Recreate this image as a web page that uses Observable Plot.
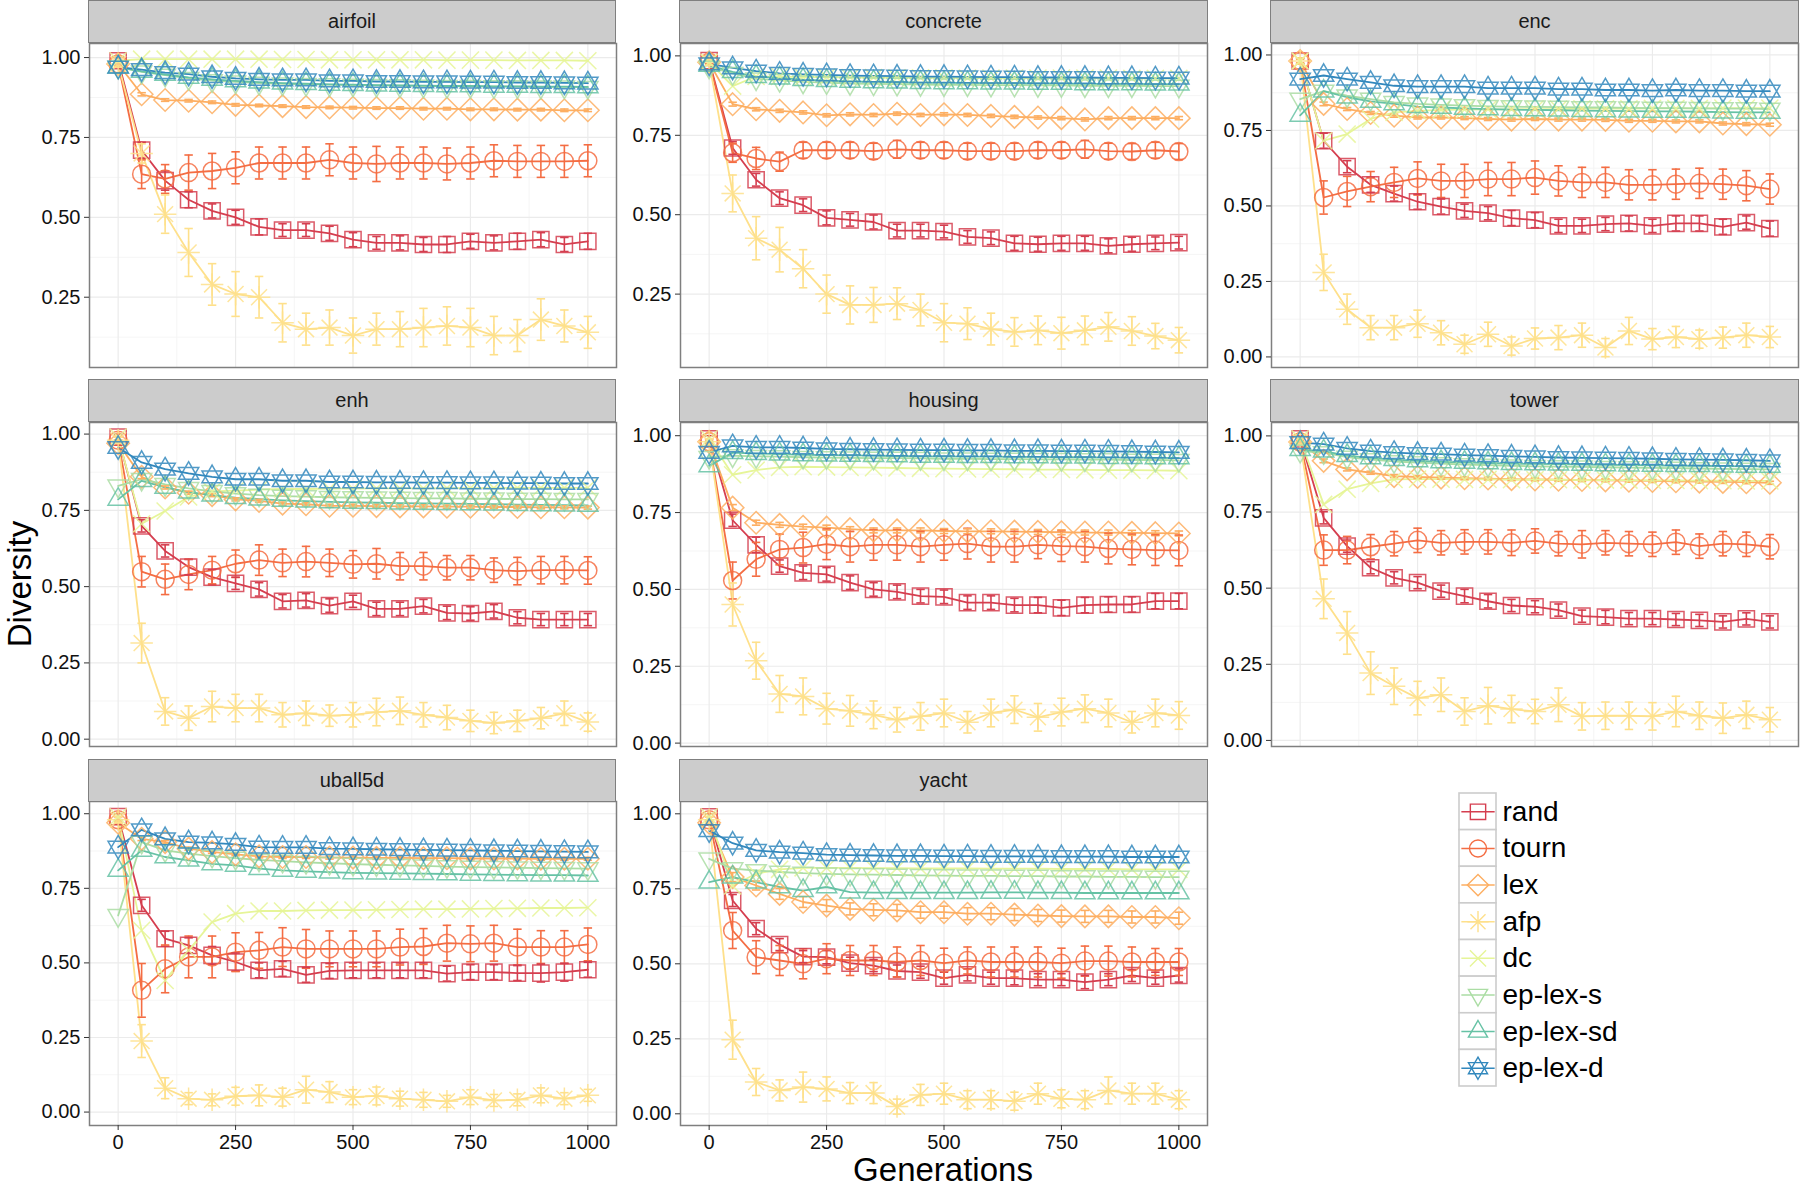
<!DOCTYPE html>
<html><head><meta charset="utf-8">
<script src="https://cdn.jsdelivr.net/npm/d3@7"></script>
<script src="https://cdn.jsdelivr.net/npm/@observablehq/plot@0.6"></script>
<style>
body{margin:0;background:#fff;font-family:"Liberation Sans",Arial,Helvetica,sans-serif;}
#chart{position:relative;width:1800px;height:1189px;overflow:hidden;background:#fff;}
.abs{position:absolute;}
.strip{position:absolute;background:#CCCCCC;border:1.5px solid #7F7F7F;box-sizing:border-box;display:flex;align-items:center;justify-content:center;font-size:20px;color:#1A1A1A;}
.title{position:absolute;font-size:33px;line-height:26px;color:#000;white-space:nowrap;transform:translate(-50%,-50%);}
</style></head>
<body><div id="chart"></div>
<script>
// ---------- categories / ticks ----------
const generations = [0,50,100,150,200,250,300,350,400,450,500,550,600,650,700,750,800,850,900,950,1000];
const methods = ["rand","tourn","lex","afp","dc","ep-lex-s","ep-lex-sd","ep-lex-d"];
const methodColors = ["#D53E4F","#F46D43","#FDAE61","#FEE08B","#E6F598","#ABDDA4","#66C2A5","#3288BD"];
const datasets = ["airfoil","concrete","enc","enh","housing","tower","uball5d","yacht"];
const xTicks = [0,250,500,750,1000];
const xMinor = [125,375,625,875];
const yTicks = [0,0.25,0.5,0.75,1];
const yMinor = [0.125,0.375,0.625,0.875];

// ---------- airfoil ----------
const airfoil_rand = [0.99,0.71,0.615,0.555,0.52,0.50,0.47,0.46,0.46,0.45,0.43,0.42,0.42,0.415,0.415,0.425,0.42,0.425,0.43,0.415,0.425];
const airfoil_tourn = [0.98,0.635,0.62,0.64,0.645,0.655,0.67,0.67,0.67,0.68,0.67,0.667,0.67,0.67,0.667,0.67,0.677,0.675,0.675,0.675,0.677];
const airfoil_lex = [0.98,0.885,0.867,0.865,0.86,0.852,0.85,0.848,0.845,0.844,0.843,0.842,0.842,0.84,0.84,0.838,0.838,0.837,0.837,0.835,0.835];
const airfoil_afp = [0.98,0.70,0.51,0.39,0.29,0.26,0.25,0.17,0.15,0.155,0.13,0.15,0.15,0.155,0.16,0.155,0.13,0.13,0.18,0.16,0.14];
const airfoil_dc = [0.99,0.995,0.995,0.995,0.995,0.995,0.995,0.994,0.994,0.993,0.993,0.993,0.993,0.993,0.992,0.992,0.992,0.991,0.991,0.991,0.99];
const airfoil_eplexs = [0.97,0.955,0.945,0.935,0.928,0.924,0.92,0.918,0.916,0.915,0.914,0.913,0.912,0.911,0.91,0.91,0.909,0.909,0.908,0.908,0.907];
const airfoil_eplexsd = [0.97,0.957,0.947,0.938,0.932,0.927,0.923,0.92,0.918,0.916,0.915,0.914,0.913,0.912,0.911,0.911,0.91,0.91,0.909,0.909,0.908];
const airfoil_eplexd = [0.97,0.962,0.953,0.948,0.94,0.935,0.932,0.93,0.93,0.927,0.927,0.925,0.925,0.924,0.924,0.923,0.923,0.922,0.922,0.921,0.92];
const airfoil_rand_err = [0.01,0.025,0.03,0.025,0.022,0.022,0.025,0.02,0.02,0.022,0.022,0.02,0.022,0.022,0.025,0.022,0.022,0.025,0.022,0.022,0.025];
const airfoil_tourn_err = [0.01,0.045,0.045,0.055,0.055,0.05,0.05,0.05,0.05,0.05,0.05,0.055,0.05,0.05,0.05,0.05,0.05,0.05,0.05,0.05,0.05];
const airfoil_lex_err = [0.006,0.005,0.004,0.004,0.004,0.004,0.004,0.004,0.004,0.004,0.004,0.004,0.004,0.004,0.004,0.004,0.004,0.004,0.004,0.004,0.004];
const airfoil_afp_err = [0.01,0.03,0.06,0.075,0.065,0.07,0.065,0.06,0.05,0.055,0.055,0.05,0.055,0.06,0.06,0.06,0.06,0.05,0.065,0.05,0.05];

// ---------- concrete ----------
const concrete_rand = [0.985,0.71,0.61,0.552,0.53,0.49,0.484,0.477,0.45,0.45,0.447,0.43,0.426,0.41,0.407,0.41,0.41,0.402,0.407,0.41,0.412];
const concrete_tourn = [0.98,0.695,0.677,0.667,0.703,0.703,0.703,0.70,0.706,0.703,0.703,0.70,0.70,0.70,0.703,0.703,0.706,0.70,0.699,0.703,0.699];
const concrete_lex = [0.98,0.848,0.832,0.827,0.822,0.813,0.816,0.814,0.818,0.814,0.816,0.814,0.811,0.808,0.806,0.804,0.80,0.804,0.804,0.804,0.804];
const concrete_afp = [0.98,0.567,0.426,0.39,0.33,0.25,0.216,0.216,0.22,0.20,0.16,0.157,0.14,0.131,0.136,0.127,0.136,0.147,0.134,0.118,0.105];
const concrete_dc = [0.98,0.905,0.935,0.935,0.933,0.933,0.932,0.932,0.931,0.931,0.931,0.93,0.93,0.93,0.93,0.93,0.93,0.93,0.929,0.929,0.929];
const concrete_eplexs = [0.965,0.945,0.928,0.923,0.918,0.916,0.913,0.912,0.911,0.91,0.909,0.909,0.908,0.908,0.907,0.907,0.906,0.906,0.906,0.905,0.905];
const concrete_eplexsd = [0.97,0.95,0.935,0.93,0.925,0.922,0.92,0.918,0.917,0.916,0.915,0.915,0.914,0.914,0.913,0.913,0.912,0.912,0.912,0.911,0.911];
const concrete_eplexd = [0.975,0.962,0.952,0.945,0.942,0.94,0.938,0.937,0.936,0.935,0.935,0.934,0.933,0.933,0.932,0.932,0.932,0.931,0.931,0.93,0.93];
const concrete_rand_err = [0.01,0.02,0.02,0.02,0.02,0.022,0.02,0.022,0.02,0.02,0.02,0.02,0.02,0.022,0.022,0.022,0.022,0.022,0.022,0.02,0.02];
const concrete_tourn_err = [0.01,0.03,0.035,0.03,0.025,0.025,0.025,0.025,0.028,0.025,0.025,0.025,0.025,0.025,0.025,0.025,0.028,0.025,0.025,0.025,0.025];
const concrete_lex_err = [0.006,0.006,0.005,0.005,0.005,0.005,0.005,0.005,0.005,0.005,0.005,0.005,0.005,0.005,0.005,0.005,0.005,0.005,0.005,0.005,0.005];
const concrete_afp_err = [0.01,0.058,0.068,0.07,0.06,0.06,0.06,0.055,0.05,0.05,0.06,0.05,0.05,0.045,0.045,0.05,0.045,0.045,0.045,0.04,0.04];

// ---------- enc ----------
const enc_rand = [0.98,0.716,0.63,0.57,0.541,0.514,0.498,0.484,0.476,0.46,0.453,0.434,0.434,0.44,0.442,0.434,0.442,0.442,0.431,0.445,0.425];
const enc_tourn = [0.98,0.528,0.548,0.564,0.578,0.591,0.583,0.583,0.589,0.589,0.594,0.583,0.578,0.578,0.57,0.57,0.572,0.575,0.572,0.567,0.556];
const enc_lex = [0.98,0.838,0.821,0.808,0.799,0.793,0.793,0.791,0.788,0.786,0.788,0.786,0.786,0.785,0.782,0.782,0.78,0.78,0.773,0.771,0.769];
const enc_afp = [0.98,0.28,0.158,0.097,0.097,0.11,0.08,0.042,0.075,0.036,0.061,0.064,0.072,0.031,0.086,0.059,0.066,0.059,0.064,0.072,0.066];
const enc_dc = [0.98,0.716,0.738,0.788,0.81,0.815,0.818,0.819,0.82,0.82,0.821,0.821,0.822,0.822,0.822,0.823,0.823,0.823,0.824,0.824,0.824];
const enc_eplexs = [0.854,0.88,0.865,0.854,0.843,0.838,0.835,0.832,0.83,0.829,0.828,0.827,0.826,0.826,0.825,0.824,0.824,0.823,0.822,0.822,0.821];
const enc_eplexsd = [0.80,0.88,0.86,0.846,0.838,0.829,0.826,0.823,0.821,0.819,0.818,0.817,0.816,0.815,0.814,0.813,0.813,0.812,0.811,0.81,0.81];
const enc_eplexd = [0.92,0.932,0.92,0.909,0.898,0.895,0.895,0.895,0.89,0.89,0.89,0.887,0.887,0.884,0.884,0.882,0.884,0.882,0.882,0.88,0.88];
const enc_rand_err = [0.01,0.025,0.02,0.025,0.025,0.025,0.025,0.022,0.022,0.025,0.025,0.022,0.022,0.022,0.025,0.022,0.025,0.025,0.025,0.022,0.025];
const enc_tourn_err = [0.01,0.055,0.05,0.05,0.05,0.055,0.055,0.055,0.055,0.055,0.055,0.05,0.05,0.05,0.05,0.05,0.05,0.05,0.05,0.05,0.05];
const enc_lex_err = [0.006,0.006,0.005,0.005,0.005,0.005,0.005,0.005,0.005,0.005,0.005,0.005,0.005,0.005,0.005,0.005,0.005,0.005,0.005,0.005,0.005];
const enc_afp_err = [0.01,0.06,0.05,0.04,0.04,0.045,0.04,0.03,0.04,0.03,0.035,0.04,0.04,0.03,0.045,0.035,0.035,0.03,0.035,0.04,0.035];

// ---------- enh ----------
const enh_rand = [0.99,0.699,0.617,0.564,0.531,0.511,0.491,0.452,0.455,0.438,0.452,0.427,0.427,0.436,0.414,0.412,0.419,0.398,0.392,0.392,0.392];
const enh_tourn = [0.98,0.549,0.524,0.54,0.554,0.575,0.587,0.578,0.582,0.578,0.573,0.575,0.567,0.567,0.562,0.562,0.554,0.551,0.554,0.554,0.553];
const enh_lex = [0.97,0.86,0.825,0.808,0.80,0.786,0.781,0.772,0.77,0.765,0.765,0.764,0.763,0.763,0.762,0.762,0.761,0.761,0.76,0.76,0.759];
const enh_afp = [0.98,0.315,0.091,0.069,0.107,0.102,0.102,0.08,0.085,0.077,0.08,0.089,0.093,0.08,0.071,0.06,0.053,0.06,0.069,0.085,0.056];
const enh_dc = [0.99,0.706,0.748,0.794,0.812,0.815,0.818,0.82,0.82,0.821,0.821,0.822,0.822,0.822,0.823,0.823,0.823,0.824,0.824,0.824,0.824];
const enh_eplexs = [0.83,0.852,0.835,0.822,0.812,0.805,0.80,0.797,0.795,0.793,0.792,0.791,0.79,0.789,0.789,0.788,0.788,0.787,0.787,0.786,0.786];
const enh_eplexsd = [0.786,0.847,0.825,0.81,0.80,0.792,0.787,0.783,0.78,0.778,0.776,0.775,0.774,0.773,0.772,0.771,0.77,0.769,0.768,0.767,0.766];
const enh_eplexd = [0.956,0.907,0.885,0.871,0.86,0.852,0.852,0.847,0.847,0.843,0.843,0.842,0.842,0.841,0.841,0.84,0.84,0.839,0.839,0.838,0.838];
const enh_rand_err = [0.01,0.02,0.02,0.025,0.025,0.02,0.022,0.022,0.022,0.022,0.02,0.022,0.022,0.022,0.022,0.022,0.022,0.02,0.02,0.02,0.02];
const enh_tourn_err = [0.01,0.05,0.05,0.05,0.045,0.045,0.05,0.045,0.05,0.045,0.045,0.05,0.045,0.045,0.04,0.04,0.04,0.045,0.045,0.045,0.045];
const enh_lex_err = [0.006,0.006,0.005,0.005,0.005,0.005,0.005,0.005,0.005,0.005,0.005,0.005,0.005,0.005,0.005,0.005,0.005,0.005,0.005,0.005,0.005];
const enh_afp_err = [0.01,0.065,0.045,0.04,0.05,0.045,0.045,0.04,0.04,0.035,0.04,0.045,0.045,0.04,0.04,0.035,0.035,0.035,0.035,0.04,0.03];

// ---------- housing ----------
const housing_rand = [0.99,0.725,0.645,0.576,0.554,0.549,0.522,0.50,0.492,0.478,0.476,0.457,0.457,0.449,0.449,0.44,0.449,0.451,0.451,0.462,0.462];
const housing_tourn = [0.98,0.529,0.598,0.63,0.636,0.647,0.639,0.645,0.645,0.639,0.645,0.649,0.639,0.639,0.645,0.641,0.639,0.633,0.63,0.628,0.627];
const housing_lex = [0.98,0.766,0.717,0.71,0.704,0.701,0.696,0.692,0.692,0.692,0.69,0.689,0.689,0.688,0.687,0.686,0.685,0.685,0.684,0.683,0.682];
const housing_afp = [0.98,0.451,0.268,0.16,0.152,0.112,0.105,0.092,0.076,0.087,0.098,0.068,0.098,0.109,0.084,0.101,0.112,0.098,0.068,0.098,0.09];
const housing_dc = [0.99,0.873,0.888,0.897,0.899,0.898,0.897,0.896,0.895,0.894,0.893,0.892,0.891,0.891,0.89,0.89,0.889,0.888,0.888,0.887,0.886];
const housing_eplexs = [0.93,0.935,0.933,0.932,0.93,0.929,0.928,0.927,0.927,0.926,0.925,0.925,0.924,0.924,0.923,0.923,0.922,0.922,0.921,0.921,0.92];
const housing_eplexsd = [0.902,0.945,0.942,0.94,0.938,0.937,0.936,0.935,0.934,0.933,0.933,0.932,0.932,0.931,0.931,0.93,0.93,0.929,0.929,0.928,0.928];
const housing_eplexd = [0.946,0.967,0.962,0.962,0.96,0.957,0.956,0.955,0.954,0.953,0.953,0.952,0.952,0.951,0.951,0.95,0.95,0.949,0.948,0.947,0.946];
const housing_rand_err = [0.01,0.02,0.025,0.02,0.022,0.022,0.022,0.022,0.022,0.022,0.022,0.022,0.022,0.022,0.025,0.025,0.025,0.025,0.025,0.025,0.025];
const housing_tourn_err = [0.01,0.06,0.055,0.05,0.05,0.05,0.05,0.05,0.05,0.05,0.05,0.05,0.05,0.05,0.045,0.05,0.05,0.05,0.05,0.05,0.05];
const housing_lex_err = [0.006,0.01,0.008,0.008,0.008,0.008,0.008,0.008,0.008,0.008,0.008,0.008,0.008,0.008,0.008,0.008,0.008,0.008,0.008,0.008,0.008];
const housing_afp_err = [0.01,0.07,0.06,0.06,0.06,0.05,0.05,0.045,0.04,0.045,0.045,0.035,0.045,0.045,0.045,0.045,0.045,0.045,0.035,0.045,0.045];

// ---------- tower ----------
const tower_rand = [0.99,0.731,0.638,0.567,0.534,0.518,0.49,0.474,0.457,0.443,0.439,0.428,0.408,0.405,0.40,0.40,0.397,0.394,0.389,0.399,0.389];
const tower_tourn = [0.98,0.625,0.625,0.636,0.646,0.657,0.649,0.652,0.652,0.649,0.655,0.646,0.644,0.649,0.646,0.644,0.651,0.638,0.646,0.644,0.636];
const tower_lex = [0.98,0.918,0.89,0.879,0.868,0.865,0.863,0.861,0.86,0.858,0.857,0.856,0.855,0.854,0.853,0.852,0.851,0.85,0.849,0.848,0.846];
const tower_afp = [0.98,0.465,0.353,0.221,0.178,0.139,0.15,0.095,0.114,0.103,0.095,0.117,0.079,0.081,0.081,0.079,0.095,0.081,0.073,0.084,0.068];
const tower_dc = [0.99,0.775,0.825,0.844,0.857,0.858,0.858,0.857,0.857,0.856,0.856,0.856,0.855,0.855,0.855,0.854,0.854,0.853,0.853,0.852,0.852];
const tower_eplexs = [0.95,0.945,0.93,0.922,0.916,0.912,0.909,0.906,0.904,0.902,0.90,0.899,0.898,0.897,0.896,0.895,0.894,0.893,0.892,0.891,0.89];
const tower_eplexsd = [0.955,0.95,0.935,0.928,0.922,0.918,0.915,0.913,0.911,0.909,0.908,0.907,0.906,0.905,0.904,0.903,0.902,0.902,0.901,0.90,0.90];
const tower_eplexd = [0.978,0.973,0.959,0.95,0.945,0.942,0.94,0.937,0.935,0.933,0.931,0.929,0.928,0.927,0.926,0.925,0.923,0.922,0.921,0.92,0.918];
const tower_rand_err = [0.01,0.02,0.02,0.02,0.02,0.02,0.02,0.022,0.022,0.02,0.02,0.02,0.02,0.022,0.02,0.02,0.02,0.02,0.02,0.02,0.02];
const tower_tourn_err = [0.01,0.05,0.045,0.04,0.04,0.04,0.04,0.04,0.04,0.042,0.04,0.04,0.045,0.04,0.04,0.04,0.04,0.04,0.04,0.04,0.04];
const tower_lex_err = [0.006,0.006,0.005,0.005,0.005,0.005,0.005,0.005,0.005,0.005,0.005,0.005,0.005,0.005,0.005,0.005,0.005,0.005,0.005,0.005,0.005];
const tower_afp_err = [0.01,0.065,0.07,0.07,0.06,0.055,0.055,0.045,0.06,0.045,0.04,0.055,0.045,0.045,0.045,0.045,0.05,0.045,0.05,0.045,0.04];

// ---------- uball5d ----------
const uball5d_rand = [0.99,0.693,0.581,0.559,0.525,0.503,0.475,0.48,0.46,0.473,0.475,0.475,0.475,0.475,0.464,0.469,0.469,0.466,0.466,0.469,0.477];
const uball5d_tourn = [0.98,0.408,0.48,0.52,0.52,0.536,0.542,0.553,0.547,0.547,0.547,0.547,0.553,0.555,0.566,0.564,0.566,0.553,0.553,0.553,0.562];
const uball5d_lex = [0.97,0.916,0.905,0.883,0.872,0.864,0.857,0.855,0.855,0.853,0.853,0.852,0.852,0.851,0.851,0.85,0.85,0.85,0.849,0.849,0.849];
const uball5d_afp = [0.98,0.238,0.08,0.045,0.041,0.053,0.056,0.05,0.075,0.067,0.05,0.054,0.045,0.041,0.036,0.05,0.039,0.041,0.056,0.045,0.056];
const uball5d_dc = [0.99,0.609,0.441,0.542,0.637,0.665,0.674,0.674,0.676,0.677,0.677,0.678,0.679,0.68,0.68,0.681,0.682,0.683,0.684,0.684,0.685];
const uball5d_eplexs = [0.659,0.905,0.877,0.866,0.858,0.851,0.845,0.841,0.837,0.834,0.831,0.829,0.827,0.825,0.823,0.821,0.82,0.819,0.818,0.817,0.816];
const uball5d_eplexsd = [0.81,0.877,0.855,0.844,0.832,0.827,0.816,0.81,0.807,0.804,0.802,0.801,0.80,0.799,0.798,0.797,0.796,0.795,0.794,0.794,0.793];
const uball5d_eplexd = [0.888,0.946,0.916,0.905,0.902,0.897,0.888,0.887,0.887,0.883,0.882,0.881,0.88,0.879,0.878,0.877,0.876,0.875,0.874,0.873,0.872];
const uball5d_rand_err = [0.01,0.02,0.025,0.025,0.03,0.03,0.025,0.025,0.025,0.025,0.025,0.025,0.025,0.025,0.025,0.025,0.025,0.025,0.03,0.03,0.025];
const uball5d_tourn_err = [0.01,0.09,0.08,0.07,0.07,0.065,0.06,0.065,0.065,0.06,0.06,0.06,0.06,0.06,0.06,0.06,0.06,0.06,0.055,0.055,0.055];
const uball5d_lex_err = [0.006,0.006,0.005,0.005,0.005,0.005,0.005,0.005,0.005,0.005,0.005,0.005,0.005,0.005,0.005,0.005,0.005,0.005,0.005,0.005,0.005];
const uball5d_afp_err = [0.01,0.055,0.035,0.02,0.02,0.03,0.035,0.03,0.045,0.035,0.025,0.03,0.025,0.025,0.02,0.025,0.02,0.02,0.025,0.02,0.02];

// ---------- yacht ----------
const yacht_rand = [0.99,0.711,0.617,0.564,0.524,0.522,0.502,0.494,0.476,0.472,0.452,0.463,0.452,0.452,0.447,0.447,0.439,0.447,0.461,0.452,0.461];
const yacht_tourn = [0.98,0.611,0.522,0.511,0.50,0.517,0.511,0.511,0.506,0.511,0.502,0.511,0.506,0.506,0.506,0.502,0.509,0.509,0.506,0.506,0.506];
const yacht_lex = [0.97,0.789,0.761,0.733,0.706,0.694,0.683,0.68,0.678,0.672,0.672,0.667,0.667,0.664,0.661,0.659,0.658,0.658,0.656,0.656,0.652];
const yacht_afp = [0.98,0.247,0.106,0.078,0.089,0.083,0.069,0.069,0.024,0.063,0.067,0.047,0.047,0.042,0.067,0.05,0.047,0.078,0.067,0.067,0.047];
const yacht_dc = [0.99,0.76,0.80,0.815,0.82,0.82,0.82,0.819,0.819,0.818,0.818,0.818,0.817,0.817,0.817,0.816,0.816,0.816,0.815,0.815,0.815];
const yacht_eplexs = [0.85,0.817,0.811,0.806,0.802,0.80,0.798,0.797,0.796,0.795,0.794,0.793,0.793,0.792,0.792,0.791,0.791,0.79,0.79,0.789,0.789];
const yacht_eplexsd = [0.772,0.789,0.772,0.756,0.744,0.756,0.739,0.737,0.737,0.737,0.737,0.737,0.738,0.738,0.737,0.737,0.736,0.736,0.736,0.736,0.736];
const yacht_eplexd = [0.944,0.902,0.878,0.872,0.869,0.864,0.862,0.861,0.86,0.86,0.859,0.859,0.858,0.858,0.858,0.857,0.857,0.857,0.856,0.856,0.856];
const yacht_rand_err = [0.01,0.02,0.02,0.02,0.02,0.022,0.02,0.02,0.02,0.02,0.02,0.02,0.02,0.022,0.02,0.02,0.022,0.02,0.02,0.02,0.022];
const yacht_tourn_err = [0.01,0.06,0.055,0.05,0.05,0.05,0.05,0.05,0.05,0.05,0.05,0.045,0.05,0.05,0.05,0.05,0.05,0.05,0.05,0.045,0.045];
const yacht_lex_err = [0.006,0.015,0.015,0.018,0.018,0.02,0.02,0.02,0.02,0.02,0.02,0.02,0.02,0.02,0.02,0.02,0.02,0.02,0.02,0.02,0.02];
const yacht_afp_err = [0.01,0.065,0.045,0.035,0.05,0.04,0.035,0.035,0.025,0.035,0.035,0.03,0.03,0.03,0.035,0.03,0.03,0.045,0.035,0.035,0.03];

// per-panel y-axis extents
const yDomains = {
  airfoil:[0.03,1.044], concrete:[0.019,1.039], enc:[-0.035,1.038], enh:[-0.024,1.038],
  housing:[-0.011,1.043], tower:[-0.02,1.044], uball5d:[-0.045,1.041], yacht:[-0.039,1.041]
};

// ---------- assemble ----------
const seriesOf = {
  airfoil:[airfoil_rand,airfoil_tourn,airfoil_lex,airfoil_afp,airfoil_dc,airfoil_eplexs,airfoil_eplexsd,airfoil_eplexd],
  concrete:[concrete_rand,concrete_tourn,concrete_lex,concrete_afp,concrete_dc,concrete_eplexs,concrete_eplexsd,concrete_eplexd],
  enc:[enc_rand,enc_tourn,enc_lex,enc_afp,enc_dc,enc_eplexs,enc_eplexsd,enc_eplexd],
  enh:[enh_rand,enh_tourn,enh_lex,enh_afp,enh_dc,enh_eplexs,enh_eplexsd,enh_eplexd],
  housing:[housing_rand,housing_tourn,housing_lex,housing_afp,housing_dc,housing_eplexs,housing_eplexsd,housing_eplexd],
  tower:[tower_rand,tower_tourn,tower_lex,tower_afp,tower_dc,tower_eplexs,tower_eplexsd,tower_eplexd],
  uball5d:[uball5d_rand,uball5d_tourn,uball5d_lex,uball5d_afp,uball5d_dc,uball5d_eplexs,uball5d_eplexsd,uball5d_eplexd],
  yacht:[yacht_rand,yacht_tourn,yacht_lex,yacht_afp,yacht_dc,yacht_eplexs,yacht_eplexsd,yacht_eplexd]
};
const errorsOf = {
  airfoil:{rand:airfoil_rand_err,tourn:airfoil_tourn_err,lex:airfoil_lex_err,afp:airfoil_afp_err},
  concrete:{rand:concrete_rand_err,tourn:concrete_tourn_err,lex:concrete_lex_err,afp:concrete_afp_err},
  enc:{rand:enc_rand_err,tourn:enc_tourn_err,lex:enc_lex_err,afp:enc_afp_err},
  enh:{rand:enh_rand_err,tourn:enh_tourn_err,lex:enh_lex_err,afp:enh_afp_err},
  housing:{rand:housing_rand_err,tourn:housing_tourn_err,lex:housing_lex_err,afp:housing_afp_err},
  tower:{rand:tower_rand_err,tourn:tower_tourn_err,lex:tower_lex_err,afp:tower_afp_err},
  uball5d:{rand:uball5d_rand_err,tourn:uball5d_tourn_err,lex:uball5d_lex_err,afp:uball5d_afp_err},
  yacht:{rand:yacht_rand_err,tourn:yacht_tourn_err,lex:yacht_lex_err,afp:yacht_afp_err}
};

function rowsFor(name) {
  const out = [];
  methods.forEach((m, k) => {
    const vals = seriesOf[name][k];
    const err = errorsOf[name][m];
    vals.forEach((v, i) => {
      out.push({dataset: name, method: m, gen: generations[i], value: v,
        lo: err ? v - err[i] : null, hi: err ? v + err[i] : null});
    });
  });
  return out;
}

// ---------- ggplot-like shapes ----------
const R = s => Math.sqrt(s / Math.PI);
const shapes = {
  "rand": {draw(c, s){ const a = R(s)*0.9; c.moveTo(-a,-a); c.lineTo(a,-a); c.lineTo(a,a); c.lineTo(-a,a); c.closePath(); }},
  "tourn": {draw(c, s){ const r = R(s); c.moveTo(r,0); c.arc(0,0,r,0,2*Math.PI); c.closePath(); }},
  "lex": {draw(c, s){ const b = R(s)*1.25; c.moveTo(0,-b); c.lineTo(b,0); c.lineTo(0,b); c.lineTo(-b,0); c.closePath(); }},
  "afp": {draw(c, s){ const a = R(s)*1.25, d = a*0.7071; c.moveTo(0,-a); c.lineTo(0,a); c.moveTo(-a,0); c.lineTo(a,0); c.moveTo(-d,-d); c.lineTo(d,d); c.moveTo(-d,d); c.lineTo(d,-d); }},
  "dc": {draw(c, s){ const d = R(s)*0.95; c.moveTo(-d,-d); c.lineTo(d,d); c.moveTo(-d,d); c.lineTo(d,-d); }},
  "ep-lex-s": {draw(c, s){ const t = R(s)*1.3; c.moveTo(0,t); c.lineTo(t*0.866,-t*0.5); c.lineTo(-t*0.866,-t*0.5); c.closePath(); }},
  "ep-lex-sd": {draw(c, s){ const t = R(s)*1.3; c.moveTo(0,-t); c.lineTo(t*0.866,t*0.5); c.lineTo(-t*0.866,t*0.5); c.closePath(); }},
  "ep-lex-d": {draw(c, s){ const t = R(s)*1.3; c.moveTo(0,-t); c.lineTo(t*0.866,t*0.5); c.lineTo(-t*0.866,t*0.5); c.closePath(); c.moveTo(0,t); c.lineTo(t*0.866,-t*0.5); c.lineTo(-t*0.866,-t*0.5); c.closePath(); }}
};
const colorOf = m => methodColors[methods.indexOf(m)];

// ---------- layout ----------
const chart = document.getElementById("chart");
const colLeft = [88.5, 680, 1271];
const panelTop = [42.7, 421.7, 801];
const PW = 527, PH = 324, STRIP = 42.5;
const layout = [
  {name:"airfoil", col:0, row:0, xAxis:false},
  {name:"concrete", col:1, row:0, xAxis:false},
  {name:"enc", col:2, row:0, xAxis:false},
  {name:"enh", col:0, row:1, xAxis:false},
  {name:"housing", col:1, row:1, xAxis:false},
  {name:"tower", col:2, row:1, xAxis:false},
  {name:"uball5d", col:0, row:2, xAxis:true},
  {name:"yacht", col:1, row:2, xAxis:true}
];
const fontFamily = '"Liberation Sans", Arial, Helvetica, sans-serif';
const MARK_R = 9;

layout.forEach(p => {
  const rows = rowsFor(p.name);
  const errRows = rows.filter(d => d.lo !== null);
  const dom = yDomains[p.name];
  const inDom = v => v >= dom[0] && v <= dom[1];
  const mL = 70, mR = 2, mT = 2, mB = p.xAxis ? 50 : 2;
  const marks = [
    Plot.gridX(xMinor, {stroke:"#F3F3F3", strokeOpacity:1, strokeWidth:0.8}),
    Plot.gridY(yMinor.filter(inDom), {stroke:"#F3F3F3", strokeOpacity:1, strokeWidth:0.8}),
    Plot.gridX(xTicks, {stroke:"#EBEBEB", strokeOpacity:1, strokeWidth:1.2}),
    Plot.gridY(yTicks.filter(inDom), {stroke:"#EBEBEB", strokeOpacity:1, strokeWidth:1.2}),
    Plot.line(rows, {x:"gen", y:"value", z:"method", stroke:"method", strokeWidth:1.8}),
    Plot.ruleX(errRows, {x:"gen", y1:"lo", y2:"hi", stroke:"method", strokeWidth:1.6}),
    Plot.link(errRows, {x1:d => d.gen - 9, x2:d => d.gen + 9, y1:"lo", y2:"lo", stroke:"method", strokeWidth:1.6}),
    Plot.link(errRows, {x1:d => d.gen - 9, x2:d => d.gen + 9, y1:"hi", y2:"hi", stroke:"method", strokeWidth:1.6}),
    ...methods.map(m => Plot.dot(rows.filter(d => d.method === m), {
      x:"gen", y:"value", r:MARK_R, symbol: shapes[m], stroke: colorOf(m), fill:"none", strokeWidth:1.5, strokeOpacity:0.85
    })),
    Plot.frame({stroke:"#7F7F7F", strokeWidth:1.5}),
    Plot.axisY(yTicks.filter(inDom), {tickFormat: d3.format(".2f"), tickSize:5, tickPadding:4, fontSize:20, label:null, stroke:"#333"})
  ];
  if (p.xAxis) marks.push(Plot.axisX(xTicks, {tickFormat: d3.format("d"), tickSize:5, tickPadding:4, fontSize:20, label:null, stroke:"#333"}));
  const svg = Plot.plot({
    width: mL + PW + mR, height: mT + PH + mB,
    marginLeft: mL, marginRight: mR, marginTop: mT, marginBottom: mB,
    x: p.xAxis ? {domain:[-61, 1061]} : {domain:[-61, 1061], axis:null},
    y: {domain: dom},
    color: {domain: methods, range: methodColors},
    style: {fontFamily, color:"#111", background:"transparent", overflow:"visible"},
    marks
  });
  svg.classList.add("abs");
  svg.style.left = (colLeft[p.col] - mL) + "px";
  svg.style.top = (panelTop[p.row] - mT) + "px";
  chart.appendChild(svg);

  const strip = document.createElement("div");
  strip.className = "strip";
  strip.style.left = (colLeft[p.col] - 0.75) + "px";
  strip.style.top = (panelTop[p.row] - STRIP) + "px";
  strip.style.width = (PW + 1.5) + "px";
  strip.style.height = (STRIP + 0.75) + "px";
  strip.textContent = p.name;
  chart.appendChild(strip);
});

// axis titles
const yt = document.createElement("div");
yt.className = "title";
yt.style.left = "19.5px"; yt.style.top = "584px";
yt.style.transform = "translate(-50%,-50%) rotate(-90deg)";
yt.textContent = "Diversity";
chart.appendChild(yt);
const xt = document.createElement("div");
xt.className = "title";
xt.style.left = "943px"; xt.style.top = "1169.5px";
xt.textContent = "Generations";
chart.appendChild(xt);

// legend
const legendRows = methods.map((m, i) => ({method: m, i}));
const legend = Plot.plot({
  width: 230, height: 307, marginLeft: 9, marginRight: 184, marginTop: 8, marginBottom: 6,
  x: {domain:[0,1], axis:null}, y: {domain:[-0.5,7.5], reverse:true, axis:null},
  color: {domain: methods, range: methodColors},
  style: {fontFamily, background:"transparent", overflow:"visible"},
  marks: [
    Plot.rect(legendRows, {x1:0, x2:1, y1:d => d.i - 0.5, y2:d => d.i + 0.5, fill:"#FFFFFF", stroke:"#CCCCCC", strokeWidth:1.6}),
    Plot.link(legendRows, {x1:0.05, x2:0.95, y1:"i", y2:"i", stroke:"method", strokeWidth:1.6}),
    ...methods.map((m, i) => Plot.dot([legendRows[i]], {x:0.5, y:"i", r:8.5, symbol: shapes[m], stroke: colorOf(m), fill:"none", strokeWidth:1.4})),
    Plot.text(legendRows, {x:1, y:"i", text:"method", dx:6, textAnchor:"start", fontSize:28, fill:"#000"})
  ]
});
legend.classList.add("abs");
legend.style.left = "1450px";
legend.style.top = "785.3px";
chart.appendChild(legend);
</script>
</body></html>
